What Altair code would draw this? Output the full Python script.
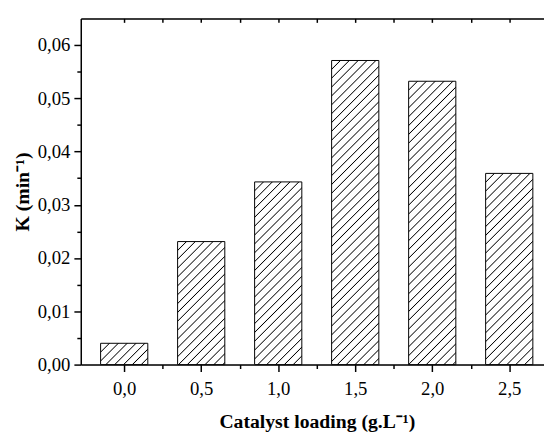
import altair as alt
import pandas as pd

# ---- data ----
loading = [0.0, 0.5, 1.0, 1.5, 2.0, 2.5]
k_values = [0.0040, 0.0231, 0.0343, 0.0571, 0.0532, 0.0359]

x_ticks = [0.0, 0.25, 0.5, 0.75, 1.0, 1.25, 1.5, 1.75, 2.0, 2.25, 2.5]
y_ticks = [0.0, 0.005, 0.01, 0.015, 0.02, 0.025, 0.03, 0.035, 0.04, 0.045,
           0.05, 0.055, 0.06]

df = pd.DataFrame({"loading": loading, "k": k_values})

# ---- layout ----
W, H = 471, 352
YMAX = 0.065
XMIN = -0.25
XMAX = XMIN + W / 160.0
BAR_W = 48
FONT = "Liberation Serif"


def hatch(w, h, period=9.0, hw=1.1):
    """Diagonal '/' hatch as a linear gradient (bbox units), soft-edged lines."""
    L = w + h
    a = w * L / (w * w + h * h)
    stops = [{"offset": 0, "color": "white"}]
    k = 1
    while k * period - hw < L:
        c = k * period
        lo = max((c - hw) / L, 0.0)
        mid = c / L
        hi = min((c + hw) / L, 1.0)
        stops += [
            {"offset": lo, "color": "white"},
            {"offset": min(mid, 1.0), "color": "black"},
            {"offset": hi, "color": "white"},
        ]
        k += 1
    stops.append({"offset": 1, "color": "white"})
    return {"gradient": "linear", "x1": 0, "y1": 0, "x2": a, "y2": a * h / w,
            "stops": stops}


xscale = alt.Scale(domain=[XMIN, XMAX], nice=False, zero=False)
yscale = alt.Scale(domain=[0, YMAX], nice=False)

common = dict(domainColor="black", domainWidth=1.5, tickColor="black",
              tickWidth=1.5, grid=False, labelFont=FONT, labelFontSize=19,
              labelColor="black", titleFont=FONT, titleFontSize=20,
              titleFontWeight="bold", titleColor="black", labelOverlap=False)

bottom_axis = alt.Axis(
    values=x_ticks,
    labelExpr="datum.value % 0.5 == 0 ? replace(format(datum.value, '.1f'), '.', ',') : ''",
    tickSize={"condition": {"test": "datum.value % 0.5 != 0", "value": 4}, "value": 7},
    title="Catalyst loading (g.L⁻¹)",
    labelPadding=8, titlePadding=14, titleX=240, labelFlush=False,
    **common,
)
top_axis = alt.Axis(
    orient="top", values=x_ticks, labels=False, title=None,
    tickSize={"expr": "-4"}, **common,
)
left_axis = alt.Axis(
    values=y_ticks,
    labelExpr="round(datum.value * 1000) % 10 == 0 ? replace(format(datum.value, '.2f'), '.', ',') : ''",
    tickSize={"condition": {"test": "round(datum.value * 1000) % 10 != 0", "value": 4}, "value": 7},
    title="K (min⁻¹)", labelPadding=4, titlePadding=5, labelFlush=False,
    **common,
)

layers = []
n = len(loading)
for i, (ld, kv) in enumerate(zip(loading, k_values)):
    h = kv / YMAX * H
    xa = bottom_axis if i == 0 else (top_axis if i == n - 1 else None)
    ya = left_axis if i == 0 else None
    layer = (
        alt.Chart(df)
        .transform_filter(alt.datum.loading == ld)
        .mark_bar(size=BAR_W, fill=hatch(BAR_W, h), stroke="black", strokeWidth=1)
        .encode(
            x=alt.X("loading:Q", scale=xscale, axis=xa),
            y=alt.Y("k:Q", scale=yscale, axis=ya),
        )
    )
    layers.append(layer)

chart = (
    alt.layer(*layers)
    .resolve_axis(x="independent", y="independent")
    .properties(width=W, height=H,
                padding={"left": 4, "top": 6, "right": 0, "bottom": 0})
    .configure_view(stroke=None)
    .configure(background="white")
)

chart.save("out.html", embed_options={"renderer": "svg", "actions": False})
